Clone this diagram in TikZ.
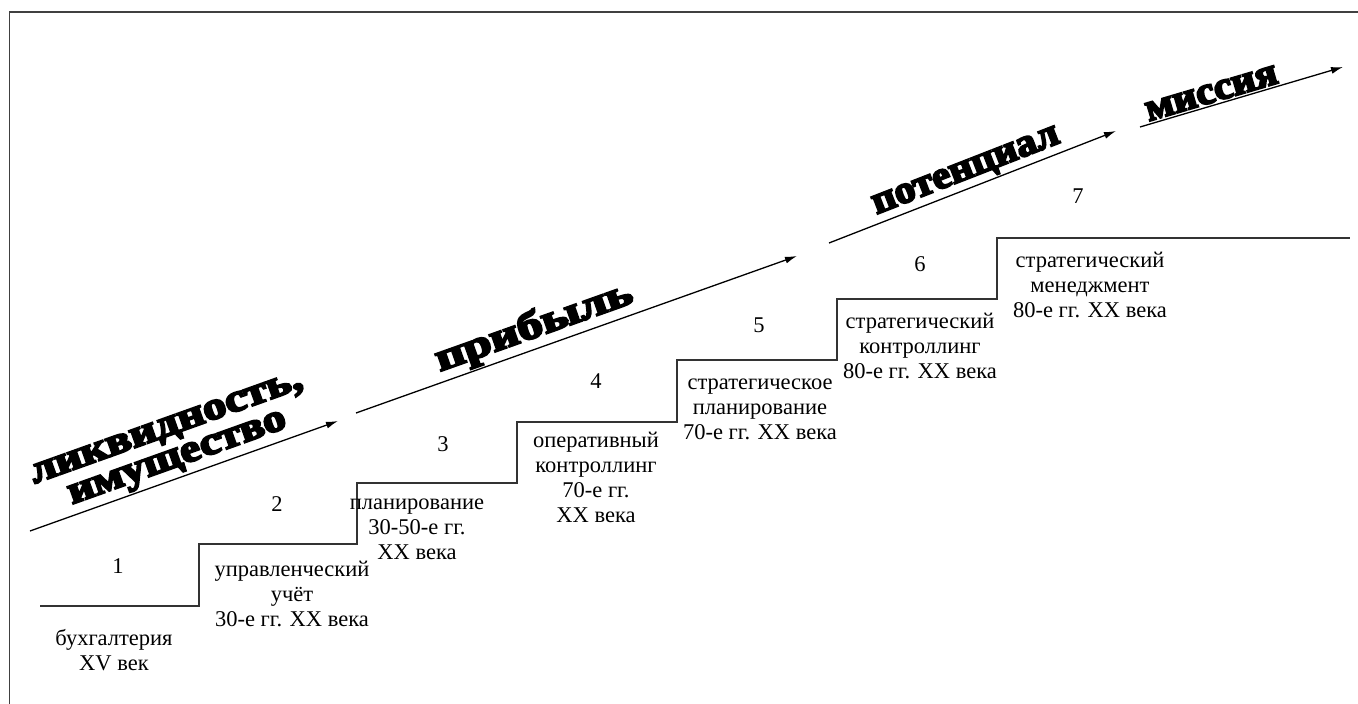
\documentclass[tikz,border=0pt]{standalone}
\usepackage{fontspec}
\setmainfont{Liberation Serif}
\newfontfamily\widefont[FakeBold=5]{Liberation Serif Bold}
\usetikzlibrary{arrows.meta}
\newcommand{\widen}[2]{\scalebox{#1}[1]{#2}}
\begin{document}
\begin{tikzpicture}[x=1pt,y=-1pt,
  stage/.style={align=center,font=\fontsize{22.5}{25}\selectfont,inner sep=0pt},
  num/.style={font=\fontsize{22.5}{25}\selectfont,inner sep=0pt},
  goal/.style={-{Latex[length=12pt,width=7pt]},line width=1.3pt},
  goaltext/.style={font=\widefont\fontsize{39}{32}\selectfont,sloped,above,inner sep=2pt,align=center},
  stair/.style={line width=1.8pt,draw=black!80},
  frame/.style={line width=1.8pt,draw=black!75}]
\useasboundingbox (0,0) rectangle (1358,704);

% open frame: left and top edges
\coordinate (fb) at (9.5,704);
\coordinate (fc) at (9.5,12);
\coordinate (fr) at (1358,12);
\draw[frame] (fb) -- (fc) -- (fr);

% staircase
\coordinate (s0) at (40,606);
\coordinate (s1) at (199,606);
\coordinate (s2) at (199,544);
\coordinate (s3) at (357,544);
\coordinate (s4) at (357,483);
\coordinate (s5) at (517,483);
\coordinate (s6) at (517,422);
\coordinate (s7) at (677,422);
\coordinate (s8) at (677,360);
\coordinate (s9) at (837,360);
\coordinate (s10) at (837,299);
\coordinate (s11) at (997,299);
\coordinate (s12) at (997,238);
\coordinate (s13) at (1350,238);
\draw[stair] (s0) -- (s1) -- (s2) -- (s3) -- (s4) -- (s5) -- (s6) -- (s7)
  -- (s8) -- (s9) -- (s10) -- (s11) -- (s12) -- (s13);

% step numbers
\node[num] (n1) at (118,566) {1};
\node[num] (n2) at (277,504) {2};
\node[num] (n3) at (443,444) {3};
\node[num] (n4) at (596,381) {4};
\node[num] (n5) at (759,325) {5};
\node[num] (n6) at (920,264) {6};
\node[num] (n7) at (1078,196) {7};

% step contents
\node[stage] (t1) at (114,650) {бухгалтерия\\XV век};
\node[stage] (t2) at (292,594) {управленческий\\учёт\\30-е гг. XX века};
\node[stage] (t3) at (417,529) {планирование\\30-50-е гг.\\XX века};
\node[stage] (t4) at (596,477) {оперативный\\контроллинг\\70-е гг.\\XX века};
\node[stage] (t5) at (760,409) {стратегическое\\планирование\\70-е гг. XX века};
\node[stage] (t6) at (920,346) {стратегический\\контроллинг\\80-е гг. XX века};
\node[stage] (t7) at (1090,285) {стратегический\\менеджмент\\80-е гг. XX века};

% goal arrows
\coordinate (a1s) at (30,531);
\coordinate (a1e) at (338,421);
\coordinate (a2s) at (356,413);
\coordinate (a2e) at (797,256);
\coordinate (a3s) at (829,243);
\coordinate (a3e) at (1116,131);
\coordinate (a4s) at (1140,127);
\coordinate (a4e) at (1343,67);
\draw[goal] (a1s) -- node[goaltext,pos=0.5] (g1)
  {\widen{1.2}{ликвидность,}\\\widen{1.17}{имущество}} (a1e);
\draw[goal] (a2s) -- node[goaltext,pos=0.42] (g2) {\widen{1.3}{прибыль}} (a2e);
\draw[goal] (a3s) -- node[goaltext,pos=0.5] (g3) {\widen{1.06}{потенциал}} (a3e);
\draw[goal] (a4s) -- node[goaltext,pos=0.37] (g4) {\widen{1.07}{миссия}} (a4e);
\end{tikzpicture}
\end{document}
